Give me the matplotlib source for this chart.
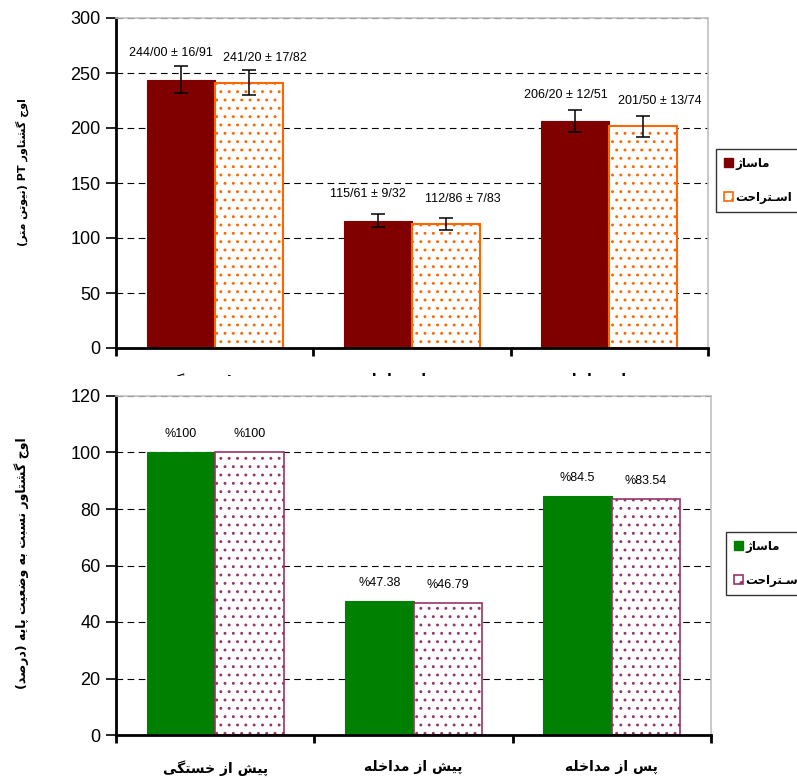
import matplotlib
matplotlib.use("Agg")
import matplotlib.pyplot as plt
from matplotlib.patches import Patch, Rectangle
from matplotlib.font_manager import FontProperties
import numpy as np

# ---------------- Persian shaping helpers ----------------
FORMS = {
    'ا': ('\uFE8D', '\uFE8E'), 'د': ('\uFEA9', '\uFEAA'), 'ر': ('\uFEAD', '\uFEAE'),
    'ز': ('\uFEAF', '\uFEB0'), 'ژ': ('\uFB8A', '\uFB8B'), 'و': ('\uFEED', '\uFEEE'),
    'ب': ('\uFE8F', '\uFE90', '\uFE91', '\uFE92'), 'پ': ('\uFB56', '\uFB57', '\uFB58', '\uFB59'),
    'ت': ('\uFE95', '\uFE96', '\uFE97', '\uFE98'), 'ج': ('\uFE9D', '\uFE9E', '\uFE9F', '\uFEA0'),
    'ح': ('\uFEA1', '\uFEA2', '\uFEA3', '\uFEA4'), 'خ': ('\uFEA5', '\uFEA6', '\uFEA7', '\uFEA8'),
    'س': ('\uFEB1', '\uFEB2', '\uFEB3', '\uFEB4'), 'ش': ('\uFEB5', '\uFEB6', '\uFEB7', '\uFEB8'),
    'ص': ('\uFEB9', '\uFEBA', '\uFEBB', '\uFEBC'), 'ض': ('\uFEBD', '\uFEBE', '\uFEBF', '\uFEC0'),
    'ع': ('\uFEC9', '\uFECA', '\uFECB', '\uFECC'), 'گ': ('\uFB92', '\uFB93', '\uFB94', '\uFB95'),
    'ل': ('\uFEDD', '\uFEDE', '\uFEDF', '\uFEE0'), 'م': ('\uFEE1', '\uFEE2', '\uFEE3', '\uFEE4'),
    'ن': ('\uFEE5', '\uFEE6', '\uFEE7', '\uFEE8'), 'ه': ('\uFEE9', '\uFEEA', '\uFEEB', '\uFEEC'),
    'ی': ('\uFBFC', '\uFBFD', '\uFBFE', '\uFBFF'),
    'ـ': ('ـ', 'ـ', 'ـ', 'ـ'),
}


def _dual(c):
    return c in FORMS and len(FORMS[c]) == 4


def persian(text):
    out = []
    for i, c in enumerate(text):
        if c not in FORMS:
            out.append(c)
            continue
        prev = text[i - 1] if i > 0 else ''
        nxt = text[i + 1] if i + 1 < len(text) else ''
        jp = _dual(prev)
        jn = _dual(c) and nxt in FORMS
        f = FORMS[c]
        if jp and jn:
            out.append(f[3])
        elif jp:
            out.append(f[1])
        elif jn:
            out.append(f[2])
        else:
            out.append(f[0])
    s = ''.join(out)[::-1]
    s = s.translate(str.maketrans('()', ')('))
    # restore left-to-right runs
    res, run = [], []
    for ch in s:
        if ch.isascii() and ch.isalnum():
            run.append(ch)
        else:
            if run:
                res.append(''.join(run[::-1]))
                run = []
            res.append(ch)
    if run:
        res.append(''.join(run[::-1]))
    return ''.join(res)


# ---------------- data ----------------
categories = ['پیش از خستگی', 'پیش از مداخله', 'پس از مداخله']
series_names = ['ماساژ', 'اسـتراحت']

pt_massage = [244.00, 115.61, 206.20]
pt_rest = [241.20, 112.86, 201.50]
pt_err_massage = [12.3, 5.9, 10.0]
pt_err_rest = [11.4, 5.5, 9.5]
pt_labels_massage = ['244/00 ± 16/91', '115/61 ± 9/32', '206/20 ± 12/51']
pt_labels_rest = ['241/20 ± 17/82', '112/86 ± 7/83', '201/50 ± 13/74']

pct_massage = [100, 47.38, 84.5]
pct_rest = [100, 46.79, 83.54]
pct_labels_massage = ['%100', '%47.38', '%84.5']
pct_labels_rest = ['%100', '%46.79', '%83.54']

ylabel_top = 'اوج گشتاور PT (نیوتن متر)'
ylabel_bottom = 'اوج گشتاور نسبت به وضعیت پایه (درصد)'

# ---------------- figure ----------------
W, H = 797, 779
fig = plt.figure(figsize=(W / 100, H / 100), dpi=100)
plt.rcParams['hatch.linewidth'] = 0.9

NUMFONT = 'Liberation Sans'
FAFONT = ['DejaVu Sans']

MAROON = '#800000'
ORANGE = '#ff6600'
GREEN = '#008000'
PLUM = '#993366'


def fx(px):
    return px / W


def fy(py):
    return 1 - py / H


ax1 = fig.add_axes([fx(116), fy(348), fx(708) - fx(116), fy(18) - fy(348)])
ax2 = fig.add_axes([fx(116), fy(735), fx(711) - fx(116), fy(396) - fy(735)])
ax2.set_zorder(2)

x = np.arange(len(categories))
bw = 0.345


def style_axes(ax, ymax, step, ylabel, ylab_y, ylab_size):
    ax.set_xlim(-0.5, len(categories) - 0.5)
    ax.set_ylim(0, ymax)
    ax.set_yticks(np.arange(0, ymax + 1, step))
    ax.set_axisbelow(True)
    ax.yaxis.grid(True, color='black', linewidth=0.8, linestyle=(0, (6, 4)))
    ax.set_xticks(np.arange(-0.5, len(categories), 1.0))
    ax.set_xticklabels([])
    ax.set_xticks(x, minor=True)
    ax.set_xticklabels([persian(c) for c in categories], minor=True,
                       family=FAFONT, fontweight='bold', fontsize=10)
    ax.tick_params(axis='x', which='minor', length=0, pad=18)
    ax.tick_params(axis='x', which='major', direction='out', length=6, width=2)
    ax.tick_params(axis='y', direction='out', length=7, width=1.2, labelsize=13, pad=4)
    for lab in ax.get_yticklabels():
        lab.set_family(NUMFONT)
    for s in ['left', 'bottom']:
        ax.spines[s].set_linewidth(2)
        ax.spines[s].set_color('black')
    for s in ['top', 'right']:
        ax.spines[s].set_linewidth(1.2)
        ax.spines[s].set_color('#c0c0c0')
    fig.text(fx(22), fy(ylab_y), persian(ylabel), rotation=90, ha='center', va='center',
             family=FAFONT, fontweight='bold', fontsize=ylab_size)


# ---------------- top chart ----------------
style_axes(ax1, 300, 50, ylabel_top, 172, 8)
ax1.bar(x - bw / 2, pt_massage, bw, color=MAROON, edgecolor=MAROON, linewidth=0.8,
        yerr=pt_err_massage, error_kw=dict(ecolor='black', elinewidth=1.1, capsize=5, capthick=1.1))
ax1.bar(x + bw / 2, pt_rest, bw, color='white', edgecolor=ORANGE, linewidth=1.5, hatch='..',
        yerr=pt_err_rest, error_kw=dict(ecolor='black', elinewidth=1.1, capsize=5, capthick=1.1))
for i in range(len(categories)):
    ax1.annotate(pt_labels_massage[i], (x[i] - bw / 2, pt_massage[i]), xytext=(-7, 19),
                 textcoords='offset points', ha='center', va='center', family=NUMFONT, fontsize=9)
    ax1.annotate(pt_labels_rest[i], (x[i] + bw / 2, pt_rest[i]), xytext=(12, 18),
                 textcoords='offset points', ha='center', va='center', family=NUMFONT, fontsize=9)

# ---------------- bottom chart ----------------
style_axes(ax2, 120, 20, ylabel_bottom, 563, 9)
ax2.bar(x - bw / 2, pct_massage, bw, color=GREEN, edgecolor=GREEN, linewidth=0.8)
ax2.bar(x + bw / 2, pct_rest, bw, color='white', edgecolor=PLUM, linewidth=1.2, hatch='..')
for i in range(len(categories)):
    ax2.annotate(pct_labels_massage[i], (x[i] - bw / 2, pct_massage[i]), xytext=(0, 13),
                 textcoords='offset points', ha='center', va='center', family=NUMFONT, fontsize=9)
    ax2.annotate(pct_labels_rest[i], (x[i] + bw / 2, pct_rest[i]), xytext=(0, 13),
                 textcoords='offset points', ha='center', va='center', family=NUMFONT, fontsize=9)

# cover the lower part of the top chart's category labels (clipped in the original)
fig.add_artist(Rectangle((0, fy(395)), 1, fy(375.5) - fy(395), transform=fig.transFigure,
                         facecolor='white', edgecolor='none', zorder=1))

# ---------------- legends ----------------
legprop = FontProperties(family=FAFONT, weight='bold', size=8.5)
for ax, fc, ec, top_px, left_px in [(ax1, MAROON, ORANGE, 149, 716),
                                     (ax2, GREEN, PLUM, 532, 726)]:
    handles = [Patch(facecolor=fc, edgecolor=fc),
               Patch(facecolor='white', edgecolor=ec, hatch='.', linewidth=1.2)]
    leg = ax.legend(handles, [persian(s) for s in series_names], loc='upper left',
                    bbox_to_anchor=(fx(left_px), fy(top_px)), bbox_transform=fig.transFigure,
                    borderaxespad=0, prop=legprop, frameon=True, fancybox=False,
                    handlelength=0.75, handleheight=0.75, handletextpad=0.25,
                    labelspacing=1.8, borderpad=0.65)
    leg.get_frame().set_edgecolor('black')
    leg.get_frame().set_linewidth(1.0)

fig.savefig('out.png', dpi=100)
